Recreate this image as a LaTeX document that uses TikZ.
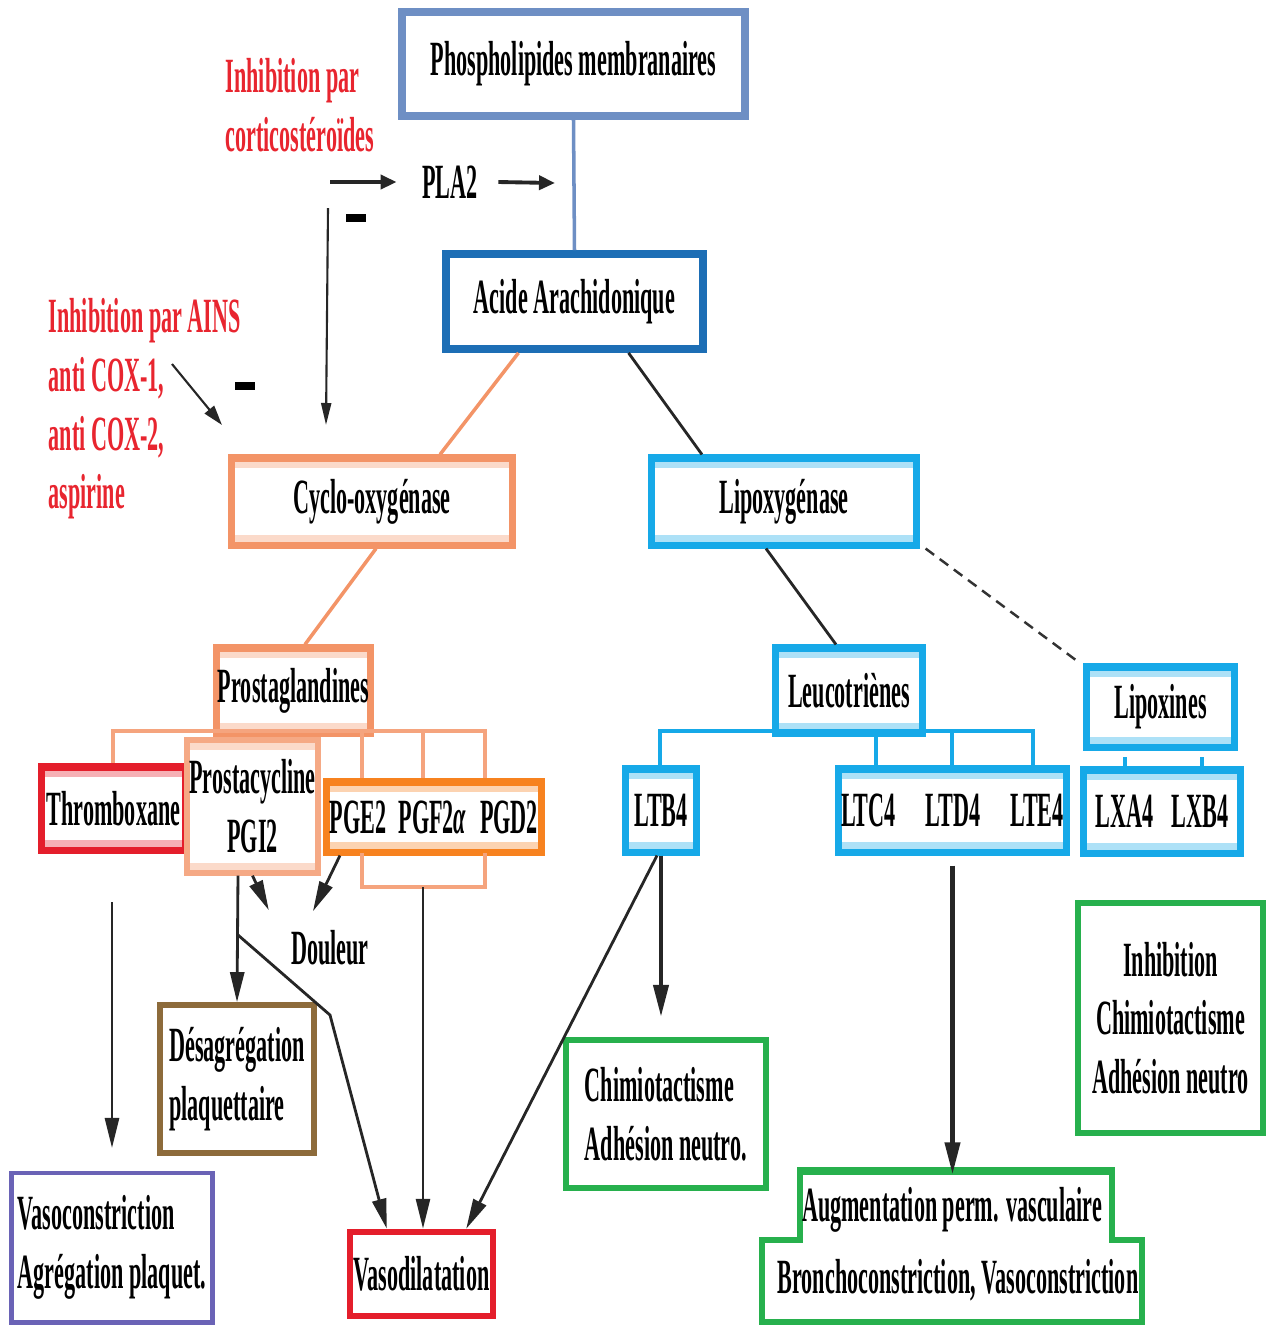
\documentclass[tikz,border=0pt]{standalone}
\usepackage{fontspec}
\setmainfont{Liberation Serif}[FakeStretch=0.45]
\usetikzlibrary{arrows.meta}

\definecolor{phosblue}{HTML}{6E8FC4}
\definecolor{acideblue}{HTML}{1D6EB5}
\definecolor{coxsalmon}{HTML}{F39467}
\definecolor{pgorange}{HTML}{F7821F}
\definecolor{loxcyan}{HTML}{16A9E8}
\definecolor{txred}{HTML}{E41E2B}
\definecolor{desagbrown}{HTML}{8D6B3B}
\definecolor{vasopurple}{HTML}{6A63B6}
\definecolor{effgreen}{HTML}{27B04D}
\definecolor{labelred}{HTML}{E8252F}

\begin{document}
\begin{tikzpicture}[x=0.01cm, y=-0.01cm,
    font=\bfseries\fontsize{14}{16.7}\selectfont,
    main/.style = {draw=#1, line width=2pt, fill=white, inner sep=0pt, align=center},
    band/.style = {path picture={\draw[#1!35, line width=0.2cm]
        (path picture bounding box.north west) -- (path picture bounding box.north east)
        (path picture bounding box.south west) -- (path picture bounding box.south east);}},
    link/.style = {line width=0.8pt, black!85},
    arr/.style = {link, -{Triangle[length=0.3cm, width=0.14cm]}},
    bigarr/.style = {line width=1.2pt, black!85, -{Triangle[length=0.32cm, width=0.15cm]}},
    minus/.style = {fill=black, minimum width=0.19cm, minimum height=0.08cm, inner sep=0pt},
    redlabel/.style = {text=labelred, align=left, anchor=west, inner sep=0pt}]
    \useasboundingbox (0,0) rectangle (1272,1326);

    % top of the cascade
    \node[main=phosblue, line width=2.2pt, minimum width=3.43cm, minimum height=1.04cm] (phos) at (573.5,64) {Phospholipides membranaires};
    \node[main=acideblue, line width=2.2pt, minimum width=2.57cm, minimum height=0.95cm] (acide) at (574.5,301.5) {Acide Arachidonique};
    \node[inner sep=0.2cm] (pla) at (450,182) {PLA2};
    \node[redlabel] (corti) at (225,105) {Inhibition par\\corticostéroïdes};
    \node[redlabel] (ains) at (48,409) {Inhibition par AINS\\anti COX-1,\\anti COX-2,\\aspirine};
    \node[minus] (m1) at (356,218) {};
    \node[minus] (m2) at (245,386) {};
    \coordinate (plain) at (330,182);
    \coordinate (plaout) at (555,183);
    \coordinate (cortitop) at (328,208);
    \coordinate (cortiend) at (326,425);
    \coordinate (ainstop) at (172,364);
    \coordinate (ainsend) at (222,425);

    \draw[phosblue, line width=1pt] (phos.south) -- (acide.north);
    \draw[link, line width=1.1pt, -{Triangle[length=0.16cm, width=0.14cm]}] (plain) -- ([xshift=-0.05cm]pla.west);
    \draw[link, line width=1.1pt, -{Triangle[length=0.16cm, width=0.14cm]}] (pla.east) -- (plaout);
    \draw[link, line width=0.6pt, -{Triangle[length=0.22cm, width=0.1cm]}] (cortitop) -- (cortiend);
    \draw[link, line width=0.6pt, -{Triangle[length=0.2cm, width=0.12cm]}] (ainstop) -- (ainsend);

    % enzymes
    \node[main=coxsalmon, band=coxsalmon, minimum width=2.80cm, minimum height=0.87cm] (cyclo) at (372,501.5) {Cyclo-oxygénase};
    \node[main=loxcyan, band=loxcyan, minimum width=2.64cm, minimum height=0.87cm] (lipox) at (784,501.5) {Lipoxygénase};
    \draw[coxsalmon, line width=1pt] ([xshift=-0.56cm]acide.south) -- ([xshift=0.68cm]cyclo.north);
    \draw[link] ([xshift=0.54cm]acide.south) -- ([xshift=-0.82cm]lipox.north);

    % prostaglandins side
    \node[main=coxsalmon, band=coxsalmon, minimum width=1.53cm, minimum height=0.85cm] (prosta) at (293.5,690.5) {Prostaglandines};
    \draw[coxsalmon, line width=1pt] ([xshift=0.04cm]cyclo.south) -- ([xshift=0.115cm]prosta.north);
    \draw[coxsalmon!85, line width=1pt] (113,767) -- (113,731) -- (485,731) -- (485,782);
    \foreach \x in {362,423}
        \draw[coxsalmon!85, line width=1pt] (\x,731) -- (\x,782);
    \node[main=txred, band=txred, minimum width=1.43cm, minimum height=0.83cm] (thromb) at (113.5,808.5) {Thromboxane};
    \node[main=coxsalmon!80, band=coxsalmon, line width=1.5pt, minimum width=1.31cm, minimum height=1.33cm] (pgi) at (252.5,806.5) {Prostacycline\\PGI2};
    \node[main=pgorange, band=pgorange, minimum width=2.14cm, minimum height=0.70cm] (pge) at (434,817) {PGE2\hspace{0.12cm}PGF2{\itshape α}\hspace{0.14cm}PGD2};
    \draw[coxsalmon!85, line width=1.4pt] (362,853) -- (362,887) -- (485,887) -- (485,853);
    \coordinate (pgebr) at (423,887);

    \node (douleur) at (330,948) {Douleur};
    \node[main=desagbrown, line width=1.6pt, minimum width=1.54cm, minimum height=1.48cm, align=left] (desag) at (237,1079) {Désagrégation\\plaquettaire};
    \node[main=vasopurple, line width=1.4pt, minimum width=2.00cm, minimum height=1.49cm, align=left] (vasoc) at (112,1247.5) {Vasoconstriction\\Agrégation plaquet.};
    \node[main=txred, line width=1.8pt, minimum width=1.43cm, minimum height=0.84cm] (vasod) at (421.5,1274) {Vasodilatation};
    \coordinate (txtop) at (112,902);
    \coordinate (txend) at (112,1148);
    \coordinate (pgibr) at (238,935);
    \coordinate (pgikink) at (330,1015);

    \draw[arr] (pgi.south) -- ([xshift=-0.1cm, yshift=0.08cm]douleur.north west);
    \draw[arr] ([xshift=-0.94cm]pge.south) -- ([xshift=-0.17cm, yshift=0.07cm]douleur.north);
    \draw[arr] ([xshift=-0.145cm]pgi.south) -- (desag.north);
    \draw[arr] (pgibr) -- (pgikink) -- ([xshift=0.4cm]vasod.north west);
    \draw[arr] (pgebr) -- (pgebr |- vasod.north);
    \draw[arr] (txtop) -- (txend);

    % leukotrienes side
    \node[main=loxcyan, band=loxcyan, minimum width=1.46cm, minimum height=0.85cm] (leuco) at (849,690.5) {Leucotriènes};
    \node[main=loxcyan, band=loxcyan, minimum width=1.47cm, minimum height=0.80cm] (lipoxines) at (1160.5,707) {Lipoxines};
    \draw[link] ([xshift=-0.18cm]lipox.south) -- ([xshift=-0.13cm]leuco.north);
    \draw[black!80, line width=0.7pt, densely dashed] ([xshift=0.06cm]lipox.south east) -- ([xshift=-0.07cm, yshift=0.03cm]lipoxines.north west);

    \draw[loxcyan, line width=1.2pt] (660,769) -- (660,731) -- (1033,731) -- (1033,769);
    \foreach \x in {876,952}
        \draw[loxcyan, line width=1.2pt] (\x,731) -- (\x,769);
    \foreach \x in {1125,1202}
        \draw[loxcyan, line width=1pt] (\x,757) -- (\x,771);

    \node[main=loxcyan, band=loxcyan, minimum width=0.70cm, minimum height=0.83cm] (ltb) at (661,810.5) {LTB4};
    \node[main=loxcyan, band=loxcyan, minimum width=2.27cm, minimum height=0.83cm] (ltc) at (952.5,810.5) {LTC4\hspace{0.3cm}LTD4\hspace{0.3cm}LTE4};
    \node[main=loxcyan, band=loxcyan, minimum width=1.57cm, minimum height=0.83cm] (lxa) at (1162,811.5) {LXA4\hspace{0.18cm}LXB4};

    \node[main=effgreen, line width=1.8pt, minimum width=2.00cm, minimum height=1.48cm, align=left] (chimio) at (666,1114) {Chimiotactisme\\Adhésion neutro.};
    \node[main=effgreen, line width=1.8pt, minimum width=1.85cm, minimum height=2.30cm] (inhib) at (1170.5,1018) {Inhibition\\Chimiotactisme\\Adhésion neutro};

    % stepped box of the cysteinyl leukotrienes
    \draw[effgreen, line width=1.6pt, fill=white] (800,1170) -- (1112,1170) -- (1112,1240) -- (1142,1240) -- (1142,1322) -- (762,1322) -- (762,1240) -- (800,1240) -- cycle;
    \draw[effgreen, line width=2.4pt] (800,1171) -- (1112,1171);
    \node[minimum width=3.12cm, minimum height=0.70cm, inner sep=0pt] (augm) at (952,1210) {Augmentation perm. vasculaire};
    \node[inner sep=0pt] (broncho) at (958,1280) {Bronchoconstriction, Vasoconstriction};

    \draw[bigarr] (ltb.south) -- ([yshift=0.2cm]ltb.south |- chimio.north);
    \draw[arr] ([xshift=-0.04cm]ltb.south) -- ([xshift=-0.3cm]vasod.north east);
    \draw[bigarr] ([yshift=-0.1cm]ltc.south) -- (ltc.south |- augm.north);
\end{tikzpicture}
\end{document}
